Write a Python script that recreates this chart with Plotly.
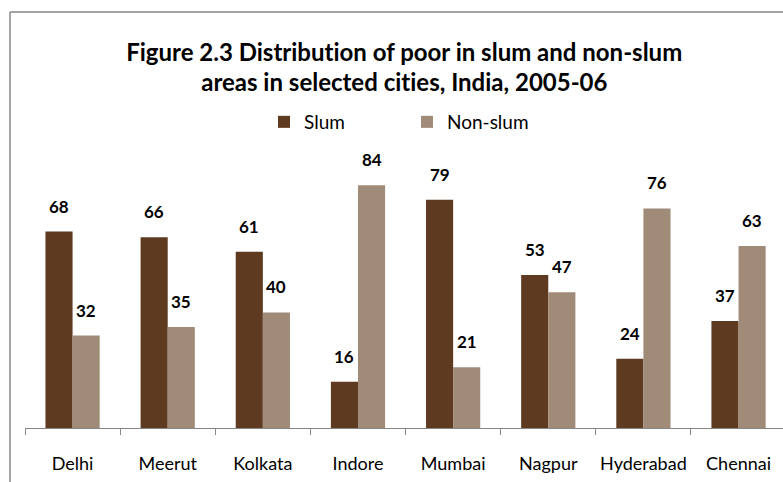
import plotly.graph_objects as go

cities = ["Delhi", "Meerut", "Kolkata", "Indore", "Mumbai", "Nagpur", "Hyderabad", "Chennai"]
slum = [68, 66, 61, 16, 79, 53, 24, 37]
non_slum = [32, 35, 40, 84, 21, 47, 76, 63]
series_names = ["Slum", "Non-slum"]
colors = ["#5E3A21", "#A08A78"]
title_lines = ["Figure 2.3 Distribution of poor in slum and non-slum",
               "areas in selected cities, India, 2005-06"]

W, H = 783, 482
ML, MR, MT, MB = 25, 0, 168, 54
PW = W - ML - MR
PH = H - MT - MB
BARGAP = 0.43

def px_x(px):
    return (px - ML) / PW

def px_y(py):
    return (H - MB - py) / PH

fig = go.Figure()
for name, vals, col in zip(series_names, [slum, non_slum], colors):
    fig.add_trace(go.Bar(
        x=cities, y=vals, name=name,
        marker=dict(color=col, line=dict(width=0)),
    ))

# data labels
half = (1 - BARGAP) / 4
for k, vals in enumerate([slum, non_slum]):
    off = -half if k == 0 else half
    for i, v in enumerate(vals):
        fig.add_annotation(
            x=i + off, y=v, xref="x", yref="y", text=str(v),
            showarrow=False, yanchor="bottom", yshift=13,
            font=dict(family="Lato", size=17, color="#000000", weight="bold"),
        )

# title lines
for j, line in enumerate(title_lines):
    fig.add_annotation(
        x=0.5, xref="paper", y=px_y(51 + 30 * j), yref="paper",
        text=f"<b>{line}</b>", showarrow=False, xanchor="center", yanchor="middle",
        font=dict(family="Lato", size=24, color="#000000"),
    )

# chart frame (cropped rectangle)
frame_col = "#868686"
fig.add_shape(type="line", xref="paper", yref="paper",
              x0=px_x(10), x1=px_x(W + 5), y0=px_y(12), y1=px_y(12),
              line=dict(color=frame_col, width=1.5))
fig.add_shape(type="line", xref="paper", yref="paper",
              x0=px_x(10), x1=px_x(10), y0=px_y(12), y1=px_y(H + 5),
              line=dict(color=frame_col, width=1.5))

n_vis = PW / 95.14
fig.update_layout(
    width=W, height=H,
    margin=dict(l=ML, r=MR, t=MT, b=MB, pad=0, autoexpand=False),
    paper_bgcolor="white", plot_bgcolor="white",
    barmode="group", bargap=BARGAP, bargroupgap=0,
    showlegend=True,
    legend=dict(
        orientation="h", x=px_x(264), xanchor="left", y=px_y(122), yanchor="middle",
        font=dict(family="Lato", size=19, color="#000000"),
        entrywidth=98, entrywidthmode="pixels",
        bgcolor="rgba(0,0,0,0)", itemclick=False, itemdoubleclick=False,
    ),
    xaxis=dict(
        type="category", range=[-0.5, -0.5 + n_vis],
        showline=True, linecolor=frame_col, linewidth=1.3,
        ticks="outside", tickson="boundaries", ticklen=6, tickcolor=frame_col, tickwidth=1.3,
        tickfont=dict(family="Lato", size=18, color="#000000"),
        tickangle=0, automargin=False,
        ticklabelstandoff=19,
        showgrid=False, zeroline=False, fixedrange=True,
    ),
    yaxis=dict(
        range=[0, 90], visible=False, showgrid=False, zeroline=False, fixedrange=True,
        automargin=False,
    ),
)

fig.write_html(
    "out.html",
    config={"displayModeBar": False},
    post_script=(
        "document.body.style.margin='0px';document.body.style.overflow='hidden';"
        "var s=document.createElement('style');"
        "s.textContent='text{font-variant-ligatures:none !important;font-feature-settings:\"liga\" 0 !important;}';"
        "document.head.appendChild(s);"
    ),
)
